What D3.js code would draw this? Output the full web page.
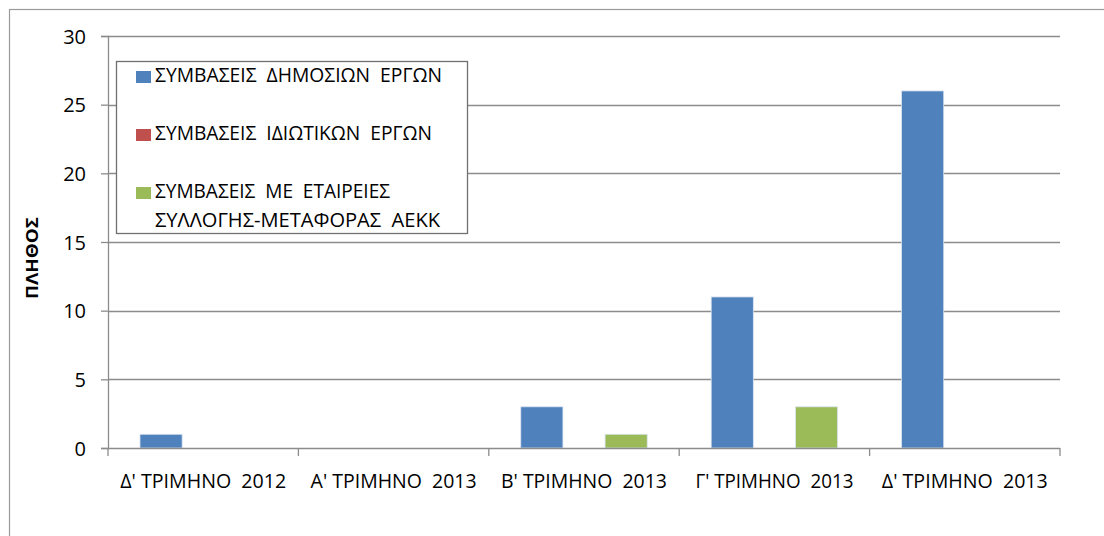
<!DOCTYPE html>
<html>
<head>
<meta charset="utf-8">
<script src="https://cdn.jsdelivr.net/npm/d3@7"></script>
<style>
  body { margin: 0; background: #fff; }
  text { font-family: "Open Sans", "Noto Sans", sans-serif; fill: #000; }
</style>
</head>
<body>
<div class="plot"></div>
<script>
// data
let categories = ["Δ' ΤΡΙΜΗΝΟ  2012", "Α' ΤΡΙΜΗΝΟ  2013", "Β' ΤΡΙΜΗΝΟ  2013", "Γ' ΤΡΙΜΗΝΟ  2013", "Δ' ΤΡΙΜΗΝΟ  2013"]
let seriesNames = ["ΣΥΜΒΑΣΕΙΣ ΔΗΜΟΣΙΩΝ ΕΡΓΩΝ", "ΣΥΜΒΑΣΕΙΣ ΙΔΙΩΤΙΚΩΝ ΕΡΓΩΝ", "ΣΥΜΒΑΣΕΙΣ ΜΕ ΕΤΑΙΡΕΙΕΣ ΣΥΛΛΟΓΗΣ-ΜΕΤΑΦΟΡΑΣ ΑΕΚΚ"]
let publicWorks = [1, 0, 3, 11, 26]
let privateWorks = [0, 0, 0, 0, 0]
let wasteCompanies = [0, 0, 1, 3, 0]
let yTicks = [0, 5, 10, 15, 20, 25, 30]
let colors = ["#4F81BD", "#C0504D", "#9BBB59"]

let series = [publicWorks, privateWorks, wasteCompanies]

let W = 1104, H = 536
let margin = {top: 36, right: 44, bottom: 88, left: 108},
    width = W - margin.left - margin.right,
    height = H - margin.top - margin.bottom

let svg = d3.select(".plot")
  .append("svg")
  .attr("width", W)
  .attr("height", H)

// outer chart frame
svg.append("rect")
  .attr("x", 9.5).attr("y", 9.5)
  .attr("width", W + 20).attr("height", H + 20)
  .attr("fill", "none")
  .attr("stroke", "#999")
  .attr("stroke-width", 1.2)

let g = svg.append("g")
  .attr("transform", "translate(" + margin.left + "," + margin.top + ")")

let x0 = d3.scaleBand()
  .domain(categories)
  .range([0, width])

// bars take 126 of each ~190 px band (gap width 150%)
let x1 = d3.scaleBand()
  .domain(d3.range(series.length))
  .range([x0.bandwidth() * 0.168, x0.bandwidth() * 0.832])

let y = d3.scaleLinear()
  .domain([0, 30])
  .range([height, 0])

// gridlines
g.append("g")
  .selectAll("line")
  .data(yTicks.filter(d => d > 0))
  .enter()
  .append("line")
  .attr("x1", 0)
  .attr("x2", width)
  .attr("y1", d => Math.round(y(d)) + 0.5)
  .attr("y2", d => Math.round(y(d)) + 0.5)
  .attr("stroke", "#8c8c8c")
  .attr("stroke-width", 1.3)

// y axis
let yAxis = g.append("g")
  .call(d3.axisLeft(y).tickValues(yTicks).tickSize(7).tickPadding(15))
yAxis.select(".domain").attr("stroke", "#8c8c8c").attr("stroke-width", 1.3)
yAxis.selectAll(".tick line").attr("stroke", "#8c8c8c").attr("stroke-width", 1.3)
yAxis.selectAll(".tick text")
  .style("font-size", "20px")
  .attr("x", -22)
  .attr("dy", "0.36em")

// bars
let groups = g.selectAll(".grp")
  .data(categories)
  .enter()
  .append("g")
  .attr("class", "grp")
  .attr("transform", d => "translate(" + x0(d) + ",0)")

groups.selectAll("rect")
  .data((c, i) => series.map((s, k) => ({k: k, v: s[i]})))
  .enter()
  .append("rect")
  .filter(d => d.v > 0)
  .attr("x", d => x1(d.k))
  .attr("width", x1.bandwidth())
  .attr("y", d => y(d.v))
  .attr("height", d => y(0) - y(d.v))
  .attr("fill", d => colors[d.k])
  .attr("stroke", "#dbe5f1")
  .attr("stroke-width", 0.8)

// x axis
let xAxis = g.append("g")
  .attr("transform", "translate(0," + height + ")")
  .call(d3.axisBottom(x0).tickSize(0).tickPadding(0))
xAxis.select(".domain").remove()
xAxis.append("line")
  .attr("x1", 0).attr("x2", width)
  .attr("y1", 0.5).attr("y2", 0.5)
  .attr("stroke", "#8c8c8c").attr("stroke-width", 1.3)
xAxis.selectAll(".sep")
  .data(d3.range(categories.length + 1))
  .enter()
  .append("line")
  .attr("x1", i => i * x0.step())
  .attr("x2", i => i * x0.step())
  .attr("y1", 0).attr("y2", 8)
  .attr("stroke", "#8c8c8c").attr("stroke-width", 1.3)
xAxis.selectAll(".tick text")
  .attr("y", 40)
  .attr("dy", 0)
  .style("font-size", "20px")
  .style("white-space", "pre")
  .attr("textLength", (d, i) => i == 3 ? 158 : 166)
  .attr("lengthAdjust", "spacingAndGlyphs")

// y axis title
svg.append("text")
  .attr("transform", "translate(38," + 258 + ") rotate(-90)")
  .attr("text-anchor", "middle")
  .style("font-size", "16px")
  .style("font-weight", "bold")
  .attr("textLength", 82)
  .attr("lengthAdjust", "spacingAndGlyphs")
  .text("ΠΛΗΘΟΣ")

// legend
let legend = svg.append("g")
legend.append("rect")
  .attr("x", 116.5).attr("y", 61.5)
  .attr("width", 351).attr("height", 172)
  .attr("fill", "#fff")
  .attr("stroke", "#707070")
  .attr("stroke-width", 1.3)

let legendRows = [
  {k: 0, lines: ["ΣΥΜΒΑΣΕΙΣ  ΔΗΜΟΣΙΩΝ  ΕΡΓΩΝ"], y: 82, len: [287]},
  {k: 1, lines: ["ΣΥΜΒΑΣΕΙΣ  ΙΔΙΩΤΙΚΩΝ  ΕΡΓΩΝ"], y: 140, len: [277]},
  {k: 2, lines: ["ΣΥΜΒΑΣΕΙΣ  ΜΕ  ΕΤΑΙΡΕΙΕΣ", "ΣΥΛΛΟΓΗΣ-ΜΕΤΑΦΟΡΑΣ  ΑΕΚΚ"], y: 198, len: [235, 285]}
]
legendRows.forEach(function(r){
  legend.append("rect")
    .attr("x", 136).attr("y", r.y - 11)
    .attr("width", 15).attr("height", 12)
    .attr("fill", colors[r.k])
  r.lines.forEach(function(t, j){
    legend.append("text")
      .attr("x", 155)
      .attr("y", r.y + j * 29)
      .style("font-size", "20px")
      .style("white-space", "pre")
      .attr("textLength", r.len[j])
      .attr("lengthAdjust", "spacingAndGlyphs")
      .text(t)
  })
})
</script>
</body>
</html>
